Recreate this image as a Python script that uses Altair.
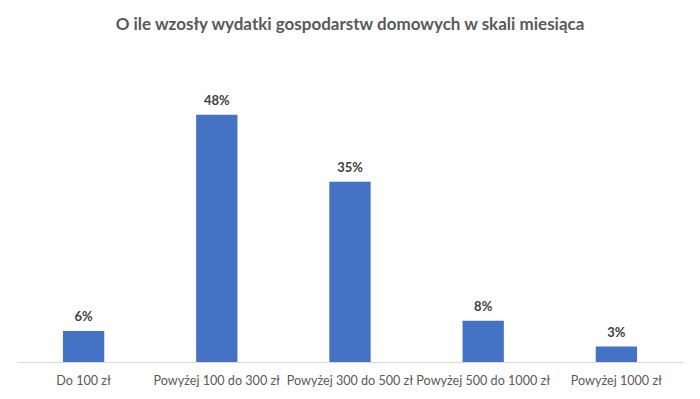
import altair as alt
import pandas as pd

categories = ["Do 100 zł", "Powyżej 100 do 300 zł", "Powyżej 300 do 500 zł",
              "Powyżej 500 do 1000 zł", "Powyżej 1000 zł"]
values = [6, 48, 35, 8, 3]
labels = ["6%", "48%", "35%", "8%", "3%"]

df = pd.DataFrame({"cat": categories, "val": values, "lab": labels})

FONT = "Lato"

x = alt.X("cat:N", sort=categories, title=None,
          scale=alt.Scale(paddingInner=0.69, paddingOuter=0.345),
          axis=alt.Axis(labelAngle=0, labelFont=FONT, labelFontSize=12.6,
                        labelColor="#595959", domainColor="#d9d9d9",
                        domainWidth=1, ticks=False, labelPadding=12,
                        labelOverlap=False))
y = alt.Y("val:Q", title=None, scale=alt.Scale(domain=[0, 60], nice=False),
          axis=None)

bars = alt.Chart(df).mark_bar(color="#4472C4").encode(x=x, y=y)
text = alt.Chart(df).mark_text(dy=-14, font=FONT, fontSize=13,
                               fontWeight="bold", color="#404040").encode(
    x=x, y=y, text="lab:N")

chart = (bars + text).properties(
    width=666, height=309,
    background="white",
    title=alt.TitleParams("O ile wzosły wydatki gospodarstw domowych w skali miesiąca",
                          font=FONT, fontSize=17, fontWeight="bold",
                          color="#595959", anchor="middle", offset=19),
    autosize=alt.AutoSizeParams(type="none"),
    padding={"left": 9, "top": 45, "right": 9, "bottom": 29},
).configure_view(strokeWidth=0, stroke=None)

chart.save("out.html", embed_options={"renderer": "svg", "actions": False})
